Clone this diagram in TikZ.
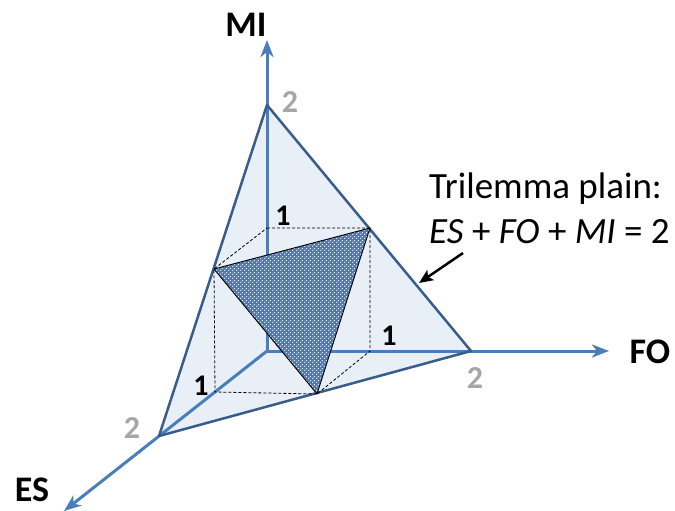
\documentclass[tikz,border=0pt]{standalone}
\usepackage{fontspec}
\setmainfont{Carlito}
\usetikzlibrary{arrows.meta,patterns}
\definecolor{axisblue}{RGB}{74,126,187}
\definecolor{edgeblue}{RGB}{56,93,138}
\definecolor{planefill}{RGB}{233,239,247}
\definecolor{innerblue}{RGB}{82,117,176}
\definecolor{numgray}{RGB}{166,166,166}
\pgfdeclarepatternformonly{bigdots}{\pgfqpoint{0pt}{0pt}}{\pgfqpoint{4pt}{4pt}}{\pgfqpoint{4pt}{4pt}}{%
  \pgfpathcircle{\pgfqpoint{1pt}{1pt}}{0.8pt}%
  \pgfpathcircle{\pgfqpoint{3pt}{3pt}}{0.8pt}%
  \pgfusepath{fill}}
\begin{document}
\begin{tikzpicture}[x=1pt,y=-1pt,
  axis/.style={draw=axisblue,line width=3pt,-{Stealth[length=17pt,width=13pt,inset=5pt]}},
  edge/.style={draw=edgeblue,line width=2.5pt,line join=round},
  cube/.style={draw=black,line width=0.8pt,dash pattern=on 3pt off 2pt},
  axlabel/.style={font=\fontsize{36}{40}\selectfont\bfseries,text=black,inner sep=0pt},
  onelabel/.style={font=\fontsize{30}{34}\selectfont\bfseries,text=black,inner sep=0pt},
  twolabel/.style={font=\fontsize{32}{36}\selectfont\bfseries,text=numgray,inner sep=0pt},
  note/.style={font=\fontsize{37}{45}\selectfont,align=left,inner sep=0pt,anchor=base west}]
\useasboundingbox (0,0) rectangle (675,511);
% coordinates
\coordinate (O) at (267,351);
\coordinate (MItwo) at (267,105);
\coordinate (FOtwo) at (471,351);
\coordinate (EStwo) at (159,436);
\coordinate (MIone) at (267,228);
\coordinate (FOone) at (370,351);
\coordinate (ESone) at (215,392);
\coordinate (MF) at (370,228);
\coordinate (ME) at (214,269);
\coordinate (EF) at (317,394);
\coordinate (MIend) at (267,40);
\coordinate (FOend) at (609,351);
\coordinate (ESend) at (64,511);
% plane fill
\fill[planefill] (MItwo) -- (FOtwo) -- (EStwo) -- cycle;
% axes
\draw[axis] (O) -- (MIend);
\draw[axis] (O) -- (FOend);
\draw[axis] (O) -- (ESend);
% plane edges
\draw[edge] (MItwo) -- (FOtwo) -- (EStwo) -- cycle;
% cube dashed
\draw[cube] (MIone) -- (MF) -- (FOone) -- (EF) -- (ESone) -- (ME) -- cycle;
% inner triangle
\fill[innerblue] (ME) -- (MF) -- (EF) -- cycle;
\fill[pattern=bigdots,pattern color=white] (ME) -- (MF) -- (EF) -- cycle;
\draw[black,line width=0.9pt,line join=round] (ME) -- (MF) -- (EF) -- cycle;
% labels
\node[axlabel] (lMI) at (246,25) {MI};
\node[axlabel] (lFO) at (650,352) {FO};
\node[axlabel] (lES) at (32,490) {ES};
\node[twolabel] (tMI) at (290,102) {2};
\node[twolabel] (tFO) at (475,378) {2};
\node[twolabel] (tES) at (132,428) {2};
\node[onelabel] (oMI) at (283,216) {1};
\node[onelabel] (oFO) at (389,336) {1};
\node[onelabel] (oES) at (201,386) {1};
\node[note] (txt) at (429,243) {Trilemma plain:\\\textit{ES} + \textit{FO} + \textit{MI} = 2};
\coordinate (tip) at (419,283);
\coordinate (tail) at (463,253);
\draw[black,line width=2.5pt,-{Stealth[length=14pt,width=12pt,inset=3pt]}] (tail) -- (tip);
\end{tikzpicture}
\end{document}
